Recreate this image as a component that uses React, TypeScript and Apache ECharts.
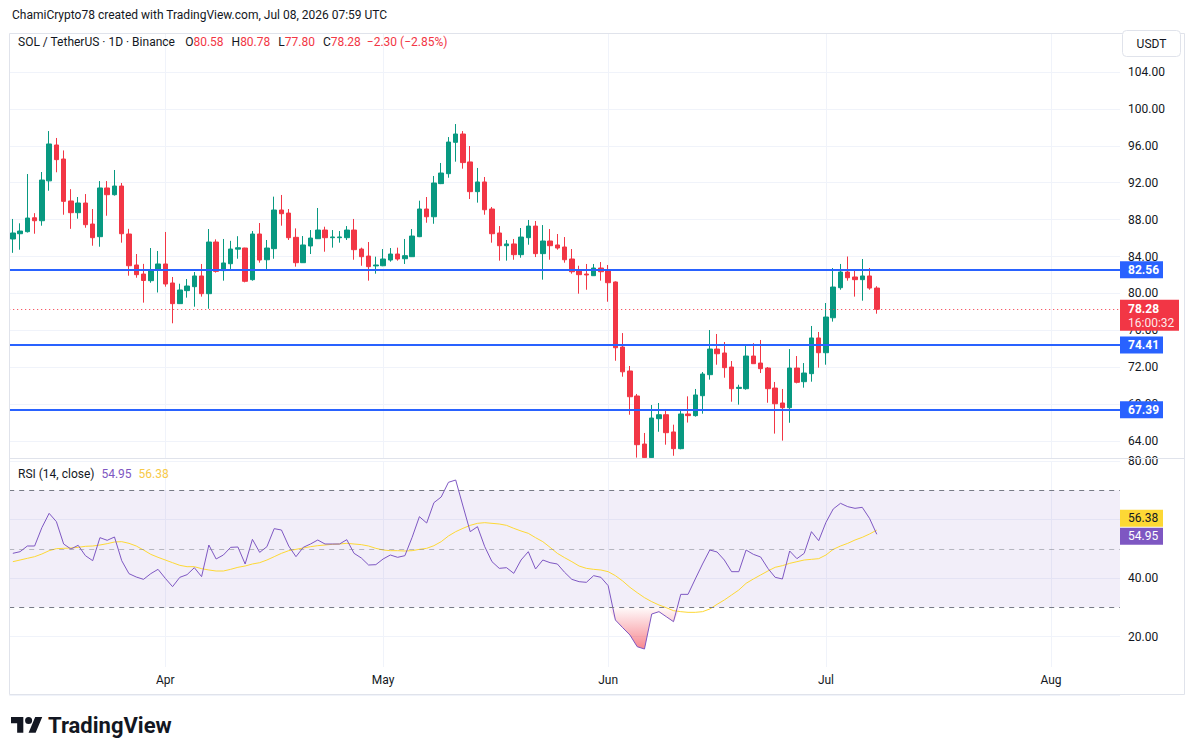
import React, { useEffect, useRef } from 'react';
import * as echarts from 'echarts';

// SOL / TetherUS daily candles, Binance, 2026-03-11 .. 2026-07-08
const firstDay = '2026-03-11';
const axisDays = 153; // time axis runs on past the last candle to mid-August

const opens = [
  85.9, 86.47, 86.69, 88.2, 87.88, 92.2, 96.09, 94.57, 90.02, 88.75,
  89.8, 87.52, 86.15, 91.43, 90.7, 91.64, 86.44, 83.08, 82.1, 81.38,
  82.5, 83.19, 81.13, 78.89, 80.3, 80.73, 81.89, 79.97, 85.57, 82.47,
  83.22, 84.8, 84.92, 81.49, 86.44, 83.65, 84.85, 89.04, 88.71, 86.08,
  83.33, 85.14, 85.93, 86.87, 86.04, 86.04, 86.04, 86.87, 84.81, 84.05,
  82.98, 83.0, 83.62, 84.27, 83.76, 83.98, 86.15, 89.15, 88.31, 91.9,
  92.98, 96.38, 97.28, 94.25, 91.03, 92.08, 89.15, 86.55, 85.17, 85.36,
  84.2, 86.04, 87.3, 84.31, 85.68, 85.25, 85.03, 83.73, 82.5, 82.1,
  81.92, 82.75, 82.43, 81.24, 74.19, 71.59, 68.88, 63.67, 62.2, 66.42,
  66.85, 64.98, 63.17, 66.93, 66.75, 68.91, 71.19, 73.97, 73.54, 72.02,
  69.7, 69.67, 73.21, 72.45, 71.91, 69.74, 68.12, 67.61, 71.91, 70.43,
  71.3, 75.17, 73.57, 77.36, 80.62, 82.32, 81.78, 81.49, 81.89, 80.58,
];
const highs = [
  88.07, 87.6, 92.94, 88.7, 93.16, 97.6, 96.85, 95.5, 91.3, 90.45,
  90.77, 89.15, 92.18, 92.18, 93.38, 91.97, 87.0, 84.27, 83.2, 84.92,
  84.6, 86.66, 81.78, 81.05, 81.56, 82.32, 83.19, 86.98, 85.86, 85.9,
  85.7, 86.2, 84.95, 86.76, 87.63, 85.79, 90.49, 90.67, 89.15, 87.05,
  86.22, 86.87, 89.26, 87.23, 86.87, 86.76, 87.3, 88.07, 84.96, 85.57,
  83.98, 84.81, 84.92, 84.96, 85.9, 86.98, 90.05, 90.45, 92.73, 94.14,
  96.95, 98.36, 97.6, 95.98, 93.6, 92.62, 89.37, 87.3, 85.79, 85.9,
  87.09, 87.96, 87.85, 87.41, 86.98, 86.44, 86.11, 84.81, 83.0, 83.19,
  83.19, 83.4, 83.08, 81.3, 75.7, 72.13, 69.1, 64.87, 67.9, 68.12,
  67.47, 65.77, 67.36, 68.84, 69.64, 71.48, 76.03, 75.6, 74.73, 72.67,
  70.1, 74.33, 74.6, 74.95, 72.02, 70.4, 69.64, 73.97, 73.21, 72.45,
  76.47, 75.82, 78.96, 82.75, 83.19, 84.0, 82.43, 83.73, 82.75, 80.78,
];
const lows = [
  84.4, 84.74, 86.6, 86.47, 87.34, 91.13, 93.13, 88.53, 87.0, 88.1,
  87.12, 85.17, 85.06, 88.42, 90.6, 85.5, 81.92, 81.7, 79.0, 81.16,
  80.1, 80.73, 76.76, 78.85, 79.54, 78.56, 79.65, 78.34, 82.25, 81.38,
  82.65, 83.76, 81.2, 81.38, 83.33, 82.65, 83.76, 87.34, 85.79, 82.9,
  83.3, 84.27, 85.9, 84.52, 84.96, 85.5, 85.79, 83.65, 83.0, 81.38,
  82.14, 82.95, 83.44, 83.55, 83.19, 83.95, 86.1, 87.66, 87.55, 91.85,
  92.54, 94.28, 93.52, 90.23, 89.84, 88.53, 85.5, 83.55, 83.55, 83.65,
  83.87, 85.28, 83.94, 81.49, 83.65, 84.74, 83.33, 82.14, 79.97, 80.4,
  81.9, 81.38, 79.1, 72.7, 70.97, 66.85, 62.2, 62.16, 62.16, 65.0,
  63.6, 62.4, 63.1, 66.0, 66.64, 66.96, 70.65, 72.27, 70.86, 68.26,
  67.94, 69.56, 72.38, 71.37, 68.15, 64.8, 64.04, 65.98, 70.25, 69.78,
  70.43, 71.95, 72.27, 76.94, 80.4, 81.38, 79.65, 79.21, 80.4, 77.8,
];
const closes = [
  86.55, 86.76, 88.17, 87.88, 92.29, 96.2, 94.5, 89.98, 88.75, 89.8,
  87.45, 86.04, 91.43, 90.7, 91.64, 86.47, 83.0, 82.03, 81.4, 82.58,
  83.19, 81.02, 78.89, 80.37, 80.8, 81.89, 79.97, 85.57, 82.39, 83.3,
  84.81, 84.95, 81.31, 86.44, 83.62, 84.92, 89.04, 88.64, 86.04, 83.33,
  85.25, 86.0, 86.87, 86.04, 86.12, 86.12, 86.87, 84.74, 83.98, 82.9,
  83.08, 83.73, 84.27, 83.73, 84.09, 86.22, 89.15, 88.31, 91.97, 93.05,
  96.41, 97.28, 94.18, 91.03, 92.08, 89.07, 86.47, 85.17, 85.36, 84.2,
  86.11, 87.3, 84.31, 85.68, 85.17, 84.92, 83.65, 82.35, 82.03, 82.0,
  82.75, 82.35, 81.16, 74.11, 71.5, 68.8, 63.6, 62.2, 66.49, 66.85,
  64.9, 63.17, 66.93, 66.75, 68.99, 71.26, 73.97, 73.46, 71.95, 69.67,
  69.82, 73.21, 72.38, 71.84, 69.67, 68.04, 67.61, 71.91, 70.36, 71.37,
  75.17, 73.57, 77.44, 80.69, 82.32, 81.7, 81.49, 81.89, 80.58, 78.28,
];

// RSI(14, close) and its 14-period moving average
const rsiValues = [
  48.43, 49.0, 50.94, 50.94, 57.21, 62.11, 59.26, 51.62, 49.91, 51.17,
  47.63, 45.92, 53.79, 52.88, 54.02, 45.92, 41.48, 40.34, 39.54, 41.48,
  42.96, 39.89, 37.04, 40.23, 41.14, 43.53, 40.46, 51.28, 46.5, 47.86,
  50.48, 50.6, 44.79, 53.22, 48.77, 50.71, 56.87, 56.41, 50.94, 47.29,
  50.48, 51.62, 52.99, 51.62, 51.62, 51.62, 53.1, 48.43, 46.84, 44.44,
  44.56, 46.5, 47.86, 47.07, 47.63, 53.9, 60.97, 58.8, 65.75, 67.69,
  72.71, 73.5, 64.61, 55.84, 57.55, 50.71, 45.58, 43.3, 43.53, 41.59,
  46.15, 49.0, 43.08, 46.15, 45.24, 44.79, 41.94, 39.54, 38.74, 38.52,
  40.8, 40.23, 37.38, 25.64, 23.02, 20.51, 16.52, 15.72, 27.69, 28.49,
  26.78, 25.07, 34.41, 34.41, 39.66, 44.79, 49.57, 48.89, 46.15, 42.16,
  42.16, 49.57, 48.09, 47.18, 43.3, 40.23, 39.66, 49.23, 46.61, 48.43,
  55.84, 52.76, 59.03, 63.59, 65.53, 64.39, 63.82, 64.16, 60.4, 54.95,
];
const rsiMaValues = [
  45.58, 46.15, 46.73, 47.29, 48.2, 49.34, 50.03, 50.14, 50.26, 50.48,
  50.83, 50.94, 51.28, 51.74, 52.31, 52.42, 51.85, 50.94, 49.57, 48.09,
  47.07, 46.15, 45.24, 44.33, 43.87, 43.87, 43.19, 42.74, 42.39, 42.39,
  42.96, 43.65, 44.1, 44.79, 45.24, 46.15, 47.29, 48.43, 49.34, 49.8,
  50.26, 50.71, 51.05, 51.28, 51.51, 51.62, 51.85, 51.62, 51.4, 50.94,
  50.14, 49.57, 49.34, 49.34, 49.23, 49.34, 49.8, 50.14, 51.05, 52.42,
  54.36, 55.84, 56.98, 58.0, 58.69, 58.92, 58.69, 58.46, 58.0, 56.98,
  56.07, 55.27, 53.79, 52.42, 50.48, 48.43, 46.95, 45.58, 44.1, 43.3,
  42.96, 42.74, 42.16, 40.8, 38.97, 36.81, 34.99, 33.28, 31.91, 30.77,
  29.86, 28.83, 28.49, 28.26, 28.26, 28.49, 29.4, 31.0, 32.48, 34.19,
  35.9, 38.18, 39.66, 41.03, 42.39, 43.65, 44.22, 45.01, 45.58, 46.15,
  46.38, 46.61, 47.86, 49.8, 50.94, 51.85, 52.99, 53.9, 55.04, 56.38,
];

const levelLines = [82.56, 74.41, 67.39];
const priceTicks = [64, 68, 72, 76, 80, 84, 88, 92, 96, 100, 104];
const rsiTicks = [80, 40, 20];
const rsiBands = { upper: 70, middle: 50, lower: 30 };
const countdown = '16:00:32';
const monthNames = ['Jan', 'Feb', 'Mar', 'Apr', 'May', 'Jun', 'Jul', 'Aug', 'Sep', 'Oct', 'Nov', 'Dec'];

const UP = '#089981';
const DOWN = '#f23645';
const BLUE = '#2962ff';
const PURPLE = '#7e57c2';
const YELLOW = '#fdd835';
const INK = '#131722';
const GRID = '#f0f3fa';
const BORDER = '#e0e3eb';
const FONT = "Roboto, 'Noto Sans', 'DejaVu Sans', sans-serif";

// pane geometry
const PLOT_LEFT = 9.2;
const PLOT_RIGHT = 75;
const PRICE_TOP = 33;
const PRICE_MIN = 60;
const PRICE_MAX = 108.23;
const PRICE_HEIGHT = 444.9;
const PRICE_PANE_FLOOR = 62.16;
const RSI_TOP = 461;
const RSI_HEIGHT = 234;
const RSI_PANE_FLOOR = 9.57;
const SEPARATOR_Y = 458;

const days: string[] = [];
{
  const d = new Date(firstDay + 'T00:00:00Z');
  for (let i = 0; i < axisDays; i++) {
    days.push(d.toISOString().slice(0, 10));
    d.setUTCDate(d.getUTCDate() + 1);
  }
}
const monthStarts = days.filter((d) => d.endsWith('-01'));
const candles = opens.map((o, i) => [o, closes[i], lows[i], highs[i]]);
const last = closes.length - 1;
const fmt = (v: number) => v.toFixed(2);
const signed = (v: number) => (v < 0 ? '\u2212' : '+') + Math.abs(v).toFixed(2);

function buildOption(): any {
  return {
    animation: false,
    backgroundColor: '#ffffff',
    textStyle: { fontFamily: FONT },
    grid: [
      { left: PLOT_LEFT, right: PLOT_RIGHT, top: PRICE_TOP, height: PRICE_HEIGHT },
      { left: PLOT_LEFT, right: PLOT_RIGHT, top: RSI_TOP, height: RSI_HEIGHT },
      { left: PLOT_LEFT, right: PLOT_RIGHT, top: 667, height: 1 },
    ],
    xAxis: [0, 1, 2].map((g) => ({
      type: 'category',
      gridIndex: g,
      data: days,
      boundaryGap: true,
      axisLine: { show: false },
      axisTick: { show: false },
      splitLine: { show: false },
      axisLabel:
        g === 2
          ? {
              show: true,
              interval: (_i: number, v: string) => v.endsWith('-01'),
              formatter: (v: string) => monthNames[Number(v.slice(5, 7)) - 1],
              color: INK,
              fontSize: 12,
              margin: 6,
              fontFamily: FONT,
            }
          : { show: false },
    })),
    yAxis: [
      {
        type: 'value',
        gridIndex: 0,
        position: 'right',
        min: PRICE_MIN,
        max: PRICE_MAX,
        interval: 4,
        axisLine: { show: false },
        axisTick: { show: false },
        splitLine: { show: false },
        axisLabel: {
          margin: 8,
          color: INK,
          fontSize: 12,
          fontFamily: FONT,
          formatter: (v: number) => (priceTicks.includes(v) ? fmt(v) : ''),
        },
      },
      {
        type: 'value',
        gridIndex: 1,
        position: 'right',
        min: 0,
        max: 80,
        interval: 20,
        axisLine: { show: false },
        axisTick: { show: false },
        splitLine: { show: true, lineStyle: { color: GRID, width: 1 } },
        axisLabel: {
          margin: 8,
          color: INK,
          fontSize: 12,
          fontFamily: FONT,
          formatter: (v: number) => (rsiTicks.includes(v) ? fmt(v) : ''),
        },
      },
      { type: 'value', gridIndex: 2, show: false },
    ],
    series: [
      // price pane grid
      {
        type: 'line',
        xAxisIndex: 0,
        yAxisIndex: 0,
        data: [],
        silent: true,
        z: 0,
        markLine: {
          silent: true,
          z: 0,
          symbol: 'none',
          label: { show: false },
          lineStyle: { color: GRID, width: 1, type: 'solid' },
          data: [
            ...priceTicks.map((v) => ({ yAxis: v })),
            ...monthStarts.map((d) => [{ coord: [d, PRICE_MAX] }, { coord: [d, PRICE_PANE_FLOOR] }]),
          ],
        },
      },
      {
        type: 'candlestick',
        name: 'SOL/USDT',
        xAxisIndex: 0,
        yAxisIndex: 0,
        data: candles,
        barWidth: 5,
        clip: true,
        z: 2,
        itemStyle: {
          color: UP,
          color0: DOWN,
          borderColor: UP,
          borderColor0: DOWN,
          borderWidth: 1,
        },
        markLine: {
          silent: true,
          symbol: 'none',
          label: { show: false },
          data: [
            ...levelLines.map((v) => ({ yAxis: v, lineStyle: { color: BLUE, width: 2, type: 'solid' } })),
            { yAxis: closes[last], lineStyle: { color: DOWN, width: 1, type: [1, 3] } },
          ],
        },
      },
      // RSI pane grid
      {
        type: 'line',
        xAxisIndex: 1,
        yAxisIndex: 1,
        data: [],
        silent: true,
        z: 0,
        markLine: {
          silent: true,
          z: 0,
          symbol: 'none',
          label: { show: false },
          lineStyle: { color: GRID, width: 1, type: 'solid' },
          data: monthStarts.map((d) => [{ coord: [d, 80] }, { coord: [d, RSI_PANE_FLOOR] }]),
        },
      },
      {
        type: 'line',
        name: 'RSI',
        xAxisIndex: 1,
        yAxisIndex: 1,
        data: rsiValues,
        symbol: 'none',
        z: 4,
        lineStyle: { color: PURPLE, width: 1 },
        itemStyle: { color: PURPLE },
        markArea: {
          silent: true,
          itemStyle: { color: 'rgba(126,87,194,0.1)' },
          data: [[{ yAxis: rsiBands.upper }, { yAxis: rsiBands.lower }]],
        },
        markLine: {
          silent: true,
          symbol: 'none',
          label: { show: false },
          data: [
            { yAxis: rsiBands.upper, lineStyle: { color: '#787b86', width: 1, type: [5, 5] } },
            { yAxis: rsiBands.middle, lineStyle: { color: 'rgba(120,123,134,0.5)', width: 1, type: [5, 5] } },
            { yAxis: rsiBands.lower, lineStyle: { color: '#787b86', width: 1, type: [5, 5] } },
          ],
        },
      },
      {
        type: 'line',
        name: 'RSI MA',
        xAxisIndex: 1,
        yAxisIndex: 1,
        data: rsiMaValues,
        symbol: 'none',
        z: 3,
        lineStyle: { color: YELLOW, width: 1 },
        itemStyle: { color: YELLOW },
      },
      // oversold shading between the RSI line and the lower band
      {
        type: 'line',
        xAxisIndex: 1,
        yAxisIndex: 1,
        stack: 'oversold',
        data: rsiValues.map((v) => Math.min(v, rsiBands.lower)),
        symbol: 'none',
        silent: true,
        z: 2,
        lineStyle: { width: 0, opacity: 0 },
      },
      {
        type: 'line',
        xAxisIndex: 1,
        yAxisIndex: 1,
        stack: 'oversold',
        data: rsiValues.map((v) => rsiBands.lower - Math.min(v, rsiBands.lower)),
        symbol: 'none',
        silent: true,
        z: 2,
        lineStyle: { width: 0, opacity: 0 },
        areaStyle: {
          opacity: 1,
          color: new echarts.graphic.LinearGradient(0, 0, 0, 1, [
            { offset: 0, color: 'rgba(242,54,69,0.02)' },
            { offset: 1, color: 'rgba(242,54,69,0.6)' },
          ]),
        },
      },
    ],
  };
}

function buildGraphics(chart: any): any[] {
  const change = closes[last] - closes[last - 1];
  const pct = (change / closes[last - 1]) * 100;
  const tagX = 1120;
  const textX = 1128;
  const py = (v: number) => chart.convertToPixel({ yAxisIndex: 0 }, v) as number;
  const ry = (v: number) => chart.convertToPixel({ yAxisIndex: 1 }, v) as number;
  const els: any[] = [];

  // frame and pane separator
  els.push({
    type: 'rect',
    z: 50,
    silent: true,
    shape: { x: 9.5, y: 33.5, width: 1175, height: 661 },
    style: { fill: 'none', stroke: BORDER, lineWidth: 1 },
  });
  els.push({
    type: 'line',
    z: 50,
    silent: true,
    shape: { x1: 9.5, y1: SEPARATOR_Y + 0.5, x2: 1184.5, y2: SEPARATOR_Y + 0.5 },
    style: { stroke: BORDER, lineWidth: 1 },
  });

  // header
  els.push({
    type: 'text',
    z: 60,
    x: 12,
    y: 15,
    style: {
      text: 'ChamiCrypto78 created with TradingView.com, Jul 08, 2026 07:59 UTC',
      fill: INK,
      font: `12px ${FONT}`,
      verticalAlign: 'middle',
    },
  });

  // symbol legend
  const lastUp = closes[last] >= opens[last];
  const valColor = lastUp ? UP : DOWN;
  els.push({
    type: 'text',
    z: 60,
    x: 18,
    y: 42,
    style: {
      text:
        `{t|SOL / TetherUS \u00b7 1D \u00b7 Binance}{s1| }{k|O}{v|${fmt(opens[last])}}{s| }{k|H}{v|${fmt(highs[last])}}{s| }` +
        `{k|L}{v|${fmt(lows[last])}}{s| }{k|C}{v|${fmt(closes[last])}}{s2| }{v|${signed(change)} (${signed(pct)}%)}`,
      verticalAlign: 'middle',
      rich: {
        t: { fill: INK, fontSize: 12, fontFamily: FONT },
        k: { fill: INK, fontSize: 12, fontFamily: FONT },
        v: { fill: valColor, fontSize: 12, fontFamily: FONT },
        s: { width: 8, fontSize: 12 },
        s1: { width: 10, fontSize: 12 },
        s2: { width: 6, fontSize: 12 },
      },
    },
  });

  // RSI legend
  els.push({
    type: 'text',
    z: 60,
    x: 18,
    y: 474,
    style: {
      text: `{t|RSI (14, close)}{s| }{p|${fmt(rsiValues[last])}}{s| }{y|${fmt(rsiMaValues[last])}}`,
      verticalAlign: 'middle',
      rich: {
        t: { fill: INK, fontSize: 12, fontFamily: FONT },
        p: { fill: PURPLE, fontSize: 12, fontFamily: FONT },
        y: { fill: '#f7c948', fontSize: 12, fontFamily: FONT },
        s: { width: 7, fontSize: 12 },
      },
    },
  });

  // currency box
  els.push({
    type: 'rect',
    z: 60,
    shape: { x: 1122.5, y: 30.5, width: 58, height: 26, r: 4 },
    style: { fill: '#ffffff', stroke: BORDER, lineWidth: 1 },
  });
  els.push({
    type: 'text',
    z: 61,
    x: 1151.5,
    y: 44,
    style: { text: 'USDT', fill: INK, font: `12px ${FONT}`, align: 'center', verticalAlign: 'middle' },
  });

  // level tags on the price scale
  levelLines.forEach((v) => {
    const y = py(v);
    els.push({
      type: 'rect',
      z: 70,
      shape: { x: tagX, y: y - 8.5, width: 43, height: 17 },
      style: { fill: BLUE },
    });
    els.push({
      type: 'text',
      z: 71,
      x: textX,
      y: y,
      style: { text: fmt(v), fill: '#ffffff', font: `bold 12px ${FONT}`, verticalAlign: 'middle' },
    });
  });

  // last price tag with bar countdown
  {
    const y = py(closes[last]);
    els.push({
      type: 'rect',
      z: 70,
      shape: { x: tagX, y: y - 9.5, width: 59, height: 31 },
      style: { fill: lastUp ? UP : DOWN },
    });
    els.push({
      type: 'text',
      z: 71,
      x: textX,
      y: y,
      style: { text: fmt(closes[last]), fill: '#ffffff', font: `bold 12px ${FONT}`, verticalAlign: 'middle' },
    });
    els.push({
      type: 'text',
      z: 71,
      x: textX,
      y: y + 13.5,
      style: { text: countdown, fill: 'rgba(255,255,255,0.9)', font: `12px ${FONT}`, verticalAlign: 'middle' },
    });
  }

  // RSI value tags
  {
    const yr = ry(rsiValues[last]) + 2;
    const ym = yr - 18;
    els.push({ type: 'rect', z: 70, shape: { x: tagX, y: ym - 8.5, width: 43, height: 17 }, style: { fill: YELLOW } });
    els.push({
      type: 'text',
      z: 71,
      x: textX,
      y: ym,
      style: { text: fmt(rsiMaValues[last]), fill: INK, font: `12px ${FONT}`, verticalAlign: 'middle' },
    });
    els.push({ type: 'rect', z: 70, shape: { x: tagX, y: yr - 8.5, width: 43, height: 17 }, style: { fill: PURPLE } });
    els.push({
      type: 'text',
      z: 71,
      x: textX,
      y: yr,
      style: { text: fmt(rsiValues[last]), fill: '#ffffff', font: `12px ${FONT}`, verticalAlign: 'middle' },
    });
  }

  // TradingView wordmark
  els.push({
    type: 'tvLogo',
    z: 60,
    x: 11,
    y: 713.5,
    scaleX: 0.88,
    scaleY: 0.88,
    style: { fill: INK },
  });
  els.push({
    type: 'text',
    z: 60,
    x: 48,
    y: 725,
    style: { text: 'TradingView', fill: INK, font: `bold 22px ${FONT}`, verticalAlign: 'middle' },
  });

  return els;
}

let logoRegistered = false;
function registerLogo() {
  if (logoRegistered) return;
  const d = 'M14 22H7V11H0V4h14v18zM28 22h-8l7.5-18h8L28 22zM24 8a4 4 0 1 1-8 0a4 4 0 0 1 8 0z';
  echarts.graphic.registerShape('tvLogo', echarts.graphic.extendPath(d, {}) as any);
  logoRegistered = true;
}

export default function App() {
  const ref = useRef<HTMLDivElement>(null);

  useEffect(() => {
    if (!ref.current) return;
    registerLogo();
    const chart = echarts.init(ref.current, null, { renderer: 'svg' });
    chart.setOption(buildOption());
    chart.setOption({ graphic: { elements: buildGraphics(chart) } });
    return () => chart.dispose();
  }, []);

  return (
    <div
      ref={ref}
      style={{ position: 'fixed', left: 0, top: 0, width: 1195, height: 755, background: '#ffffff' }}
    />
  );
}
